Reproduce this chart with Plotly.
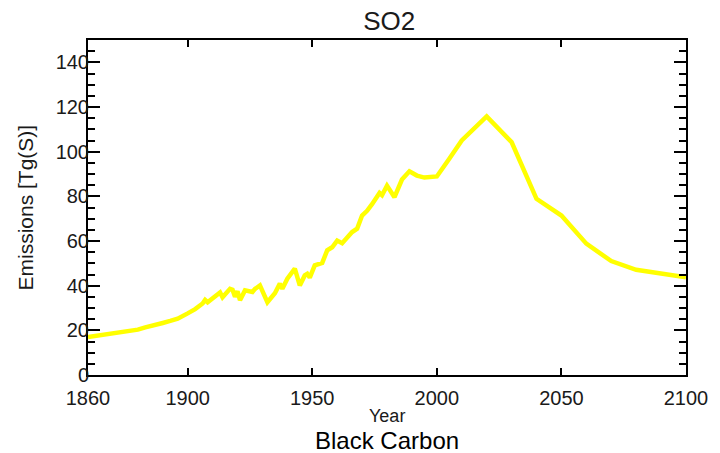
import plotly.graph_objects as go

# SO2 emissions (Tg of sulphur per year), historical record then projection
years = [1860, 1865, 1870, 1875, 1880, 1883, 1886, 1890, 1893, 1896,
         1900, 1903, 1906, 1907, 1908, 1910, 1912, 1913, 1914, 1916,
         1917, 1918, 1919, 1920, 1921, 1923, 1926, 1927, 1929, 1932,
         1935, 1937, 1938, 1940, 1943, 1945, 1947, 1948, 1949, 1951,
         1954, 1956, 1958, 1960, 1962, 1966, 1968, 1970, 1972, 1974,
         1976, 1977, 1978, 1980, 1983, 1986, 1989, 1992, 1995, 2000,
         2005, 2010, 2020, 2030, 2040, 2050, 2060, 2070, 2080, 2090, 2100]
so2 = [17.0, 17.8, 18.8, 19.5, 20.3, 21.3, 22.0, 23.3, 24.2, 25.2,
       27.6, 29.5, 32.0, 33.6, 32.6, 34.5, 35.8, 37.0, 34.8, 37.5,
       38.6, 38.2, 35.0, 37.5, 33.5, 37.9, 37.2, 38.5, 40.1, 32.6,
       36.6, 40.9, 38.6, 43.1, 47.6, 40.1, 44.6, 45.3, 43.6, 49.1,
       50.2, 55.8, 57.2, 60.2, 59.0, 64.0, 65.5, 71.4, 73.5, 76.5,
       79.5, 81.5, 80.5, 84.8, 79.6, 87.5, 91.2, 89.3, 88.4, 88.9,
       96.8, 105.0, 115.8, 104.3, 78.9, 71.4, 58.8, 51.0, 47.1, 45.3, 43.8]

x_ticks = [1860, 1900, 1950, 2000, 2050, 2100]
y_ticks = [0, 20, 40, 60, 80, 100, 120, 140]

FONT = "Liberation Sans, Arial, sans-serif"
INK = "#1a1a1a"

fig = go.Figure()
fig.add_trace(go.Scatter(
    x=years, y=so2, mode="lines",
    line=dict(color="#ffff00", width=4.5),
    showlegend=False, hoverinfo="skip",
))

axis_common = dict(
    showgrid=False, zeroline=False,
    showline=True, linecolor="black", linewidth=2,
    mirror="ticks", ticks="inside", tickcolor="black", tickwidth=2,
    tickfont=dict(family=FONT, size=20, color=INK),
)

fig.update_xaxes(
    range=[1860, 2100], tickvals=x_ticks, ticklen=7,
    ticklabelstandoff=4, **axis_common,
)
fig.update_yaxes(
    range=[0, 150], tickvals=y_ticks, ticklen=12,
    minor=dict(dtick=5, ticks="inside", ticklen=7, tickcolor="black", tickwidth=2),
    ticklabelstandoff=-7, **axis_common,
)

fig.update_layout(
    width=720, height=453,
    margin=dict(l=88, r=30, t=40, b=78),
    paper_bgcolor="white", plot_bgcolor="white",
    font=dict(family=FONT, color=INK),
    title=dict(text="SO2", x=0.5405, xanchor="center", y=1 - 21 / 453,
               yanchor="middle", font=dict(family=FONT, size=26, color=INK)),
    annotations=[
        dict(text="Year", xref="paper", yref="paper", x=0.5, y=0,
             xanchor="center", yanchor="middle", yshift=-41, showarrow=False,
             font=dict(family=FONT, size=18, color=INK)),
        dict(text="Black Carbon", xref="paper", yref="paper", x=0.5, y=0,
             xanchor="center", yanchor="middle", yshift=-65, showarrow=False,
             font=dict(family=FONT, size=24, color="black")),
        dict(text="Emissions [Tg(S)]", xref="paper", yref="paper", x=0, y=0.5,
             xanchor="center", yanchor="middle", xshift=-63, textangle=-90,
             showarrow=False, font=dict(family=FONT, size=21, color=INK)),
    ],
)

fig.write_html("out.html")
